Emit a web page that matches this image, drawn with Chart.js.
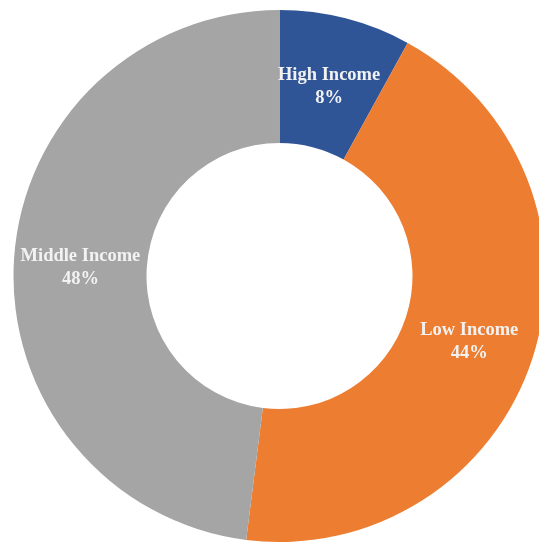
<!DOCTYPE html>
<html>
<head>
<meta charset="utf-8">
<title>Income Groups</title>
<script src="https://cdn.jsdelivr.net/npm/chart.js@4/dist/chart.umd.min.js"></script>
<style>
  html, body { margin: 0; padding: 0; background: #ffffff; overflow: hidden; }
  #wrap { position: absolute; left: 0; top: 0; width: 559px; height: 552px; }
</style>
</head>
<body>
<div id="wrap"><canvas id="c" width="559" height="552"></canvas></div>
<script>
// Income group shares (percent), drawn clockwise from 12 o'clock
const categories = ['High Income', 'Low Income', 'Middle Income'];
const shares = [8, 44, 48];
const sliceColors = ['#2F5597', '#ED7D31', '#A5A5A5'];

// Draws "Category / NN%" in each ring segment at its centroid
const segmentLabels = {
  id: 'segmentLabels',
  afterDatasetsDraw(chart) {
    const ctx = chart.ctx;
    const meta = chart.getDatasetMeta(0);
    ctx.save();
    ctx.fillStyle = '#F2F2F2';
    ctx.font = 'bold 18.5px "Liberation Serif", "Times New Roman", serif';
    ctx.textAlign = 'center';
    ctx.textBaseline = 'middle';
    meta.data.forEach((arc, i) => {
      const p = arc.tooltipPosition();
      const lbl = chart.data.labels[i];
      const val = chart.data.datasets[0].data[i] + '%';
      ctx.fillText(lbl, p.x, p.y - 7.5);
      ctx.fillText(val, p.x, p.y + 15.5);
    });
    ctx.restore();
  }
};

new Chart(document.getElementById('c'), {
  type: 'doughnut',
  data: {
    labels: categories,
    datasets: [{
      data: shares,
      backgroundColor: sliceColors,
      borderWidth: 0
    }]
  },
  options: {
    responsive: false,
    animation: false,
    cutout: '50%',
    layout: { padding: 10 },
    plugins: {
      legend: { display: false },
      tooltip: { enabled: false }
    }
  },
  plugins: [segmentLabels]
});
</script>
</body>
</html>
